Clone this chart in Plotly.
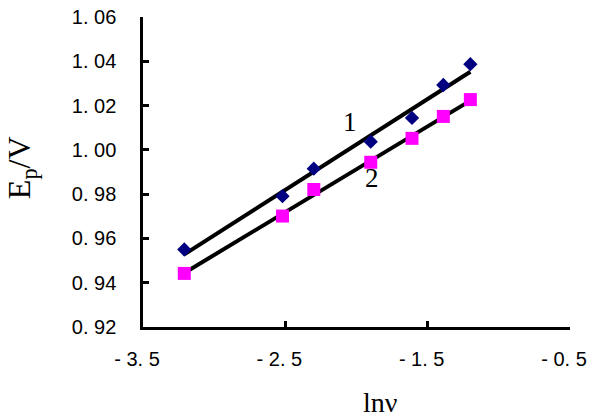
import numpy as np
import plotly.graph_objects as go

# Data
ln_v = [-3.21, -2.52, -2.30, -1.90, -1.61, -1.39, -1.20]
ep_1 = [0.9550, 0.9791, 0.9915, 1.0037, 1.0144, 1.0293, 1.0387]
ep_2 = [0.9442, 0.9701, 0.9821, 0.9944, 1.0052, 1.0151, 1.0227]

x_ticks = [-3.5, -2.5, -1.5, -0.5]
x_ticktext = ["- 3. 5", "- 2. 5", "- 1. 5", "- 0. 5"]
y_ticks = [0.92, 0.94, 0.96, 0.98, 1.00, 1.02, 1.04, 1.06]
y_ticktext = ["0. 92", "0. 94", "0. 96", "0. 98", "1. 00", "1. 02", "1. 04", "1. 06"]

fig = go.Figure()

# linear fit lines
for ys in (ep_1, ep_2):
    k, b = np.polyfit(ln_v, ys, 1)
    xl = [min(ln_v), max(ln_v)]
    fig.add_trace(go.Scatter(x=xl, y=[k * xv + b for xv in xl], mode="lines",
                             line=dict(color="black", width=4), showlegend=False,
                             hoverinfo="skip"))

fig.add_trace(go.Scatter(x=ln_v, y=ep_1, mode="markers",
                         marker=dict(symbol="diamond", size=11, color="#000080"),
                         showlegend=False))
fig.add_trace(go.Scatter(x=ln_v, y=ep_2, mode="markers",
                         marker=dict(symbol="square", size=13, color="#FF00FF"),
                         showlegend=False))

serif = "Liberation Serif, Times New Roman, serif"
sans = "Liberation Sans, Arial, sans-serif"

fig.update_layout(
    width=592, height=417,
    margin=dict(l=143, r=22, t=17, b=90, autoexpand=False),
    paper_bgcolor="white", plot_bgcolor="white",
    xaxis=dict(range=[-3.5, -0.5], tickvals=x_ticks, ticktext=x_ticktext,
               showgrid=False, zeroline=False, showline=True, linecolor="black",
               linewidth=2.5, ticks="inside", ticklen=6, tickwidth=2.5,
               tickcolor="black", ticklabelstandoff=12, ticklabeloverflow="allow",
               ticklabelshift=-6, automargin=False,
               tickfont=dict(family=sans, size=20, color="black")),
    yaxis=dict(range=[0.92, 1.06], tickvals=y_ticks, ticktext=y_ticktext,
               showgrid=False, zeroline=False, showline=True, linecolor="black",
               linewidth=2.5, ticks="inside", ticklen=6, tickwidth=2.5,
               tickcolor="black", ticklabelstandoff=20, automargin=False,
               tickfont=dict(family=sans, size=20, color="black")),
    annotations=[
        dict(x=-2.043, y=1.0128, xref="x", yref="y", text="1", showarrow=False,
             font=dict(family=serif, size=27, color="black")),
        dict(x=-1.888, y=0.9871, xref="x", yref="y", text="2", showarrow=False,
             font=dict(family=serif, size=27, color="black")),
        dict(x=0.555, y=-0.245, xref="paper", yref="paper", text="lnν",
             showarrow=False, xanchor="center", yanchor="middle",
             font=dict(family=serif, size=28, color="black")),
        dict(x=-0.283, y=0.513, xref="paper", yref="paper",
             text="E<sub>p</sub>/V", textangle=-90, showarrow=False,
             xanchor="center", yanchor="middle",
             font=dict(family=serif, size=32, color="black")),
    ],
)

fig.write_html("out.html")
